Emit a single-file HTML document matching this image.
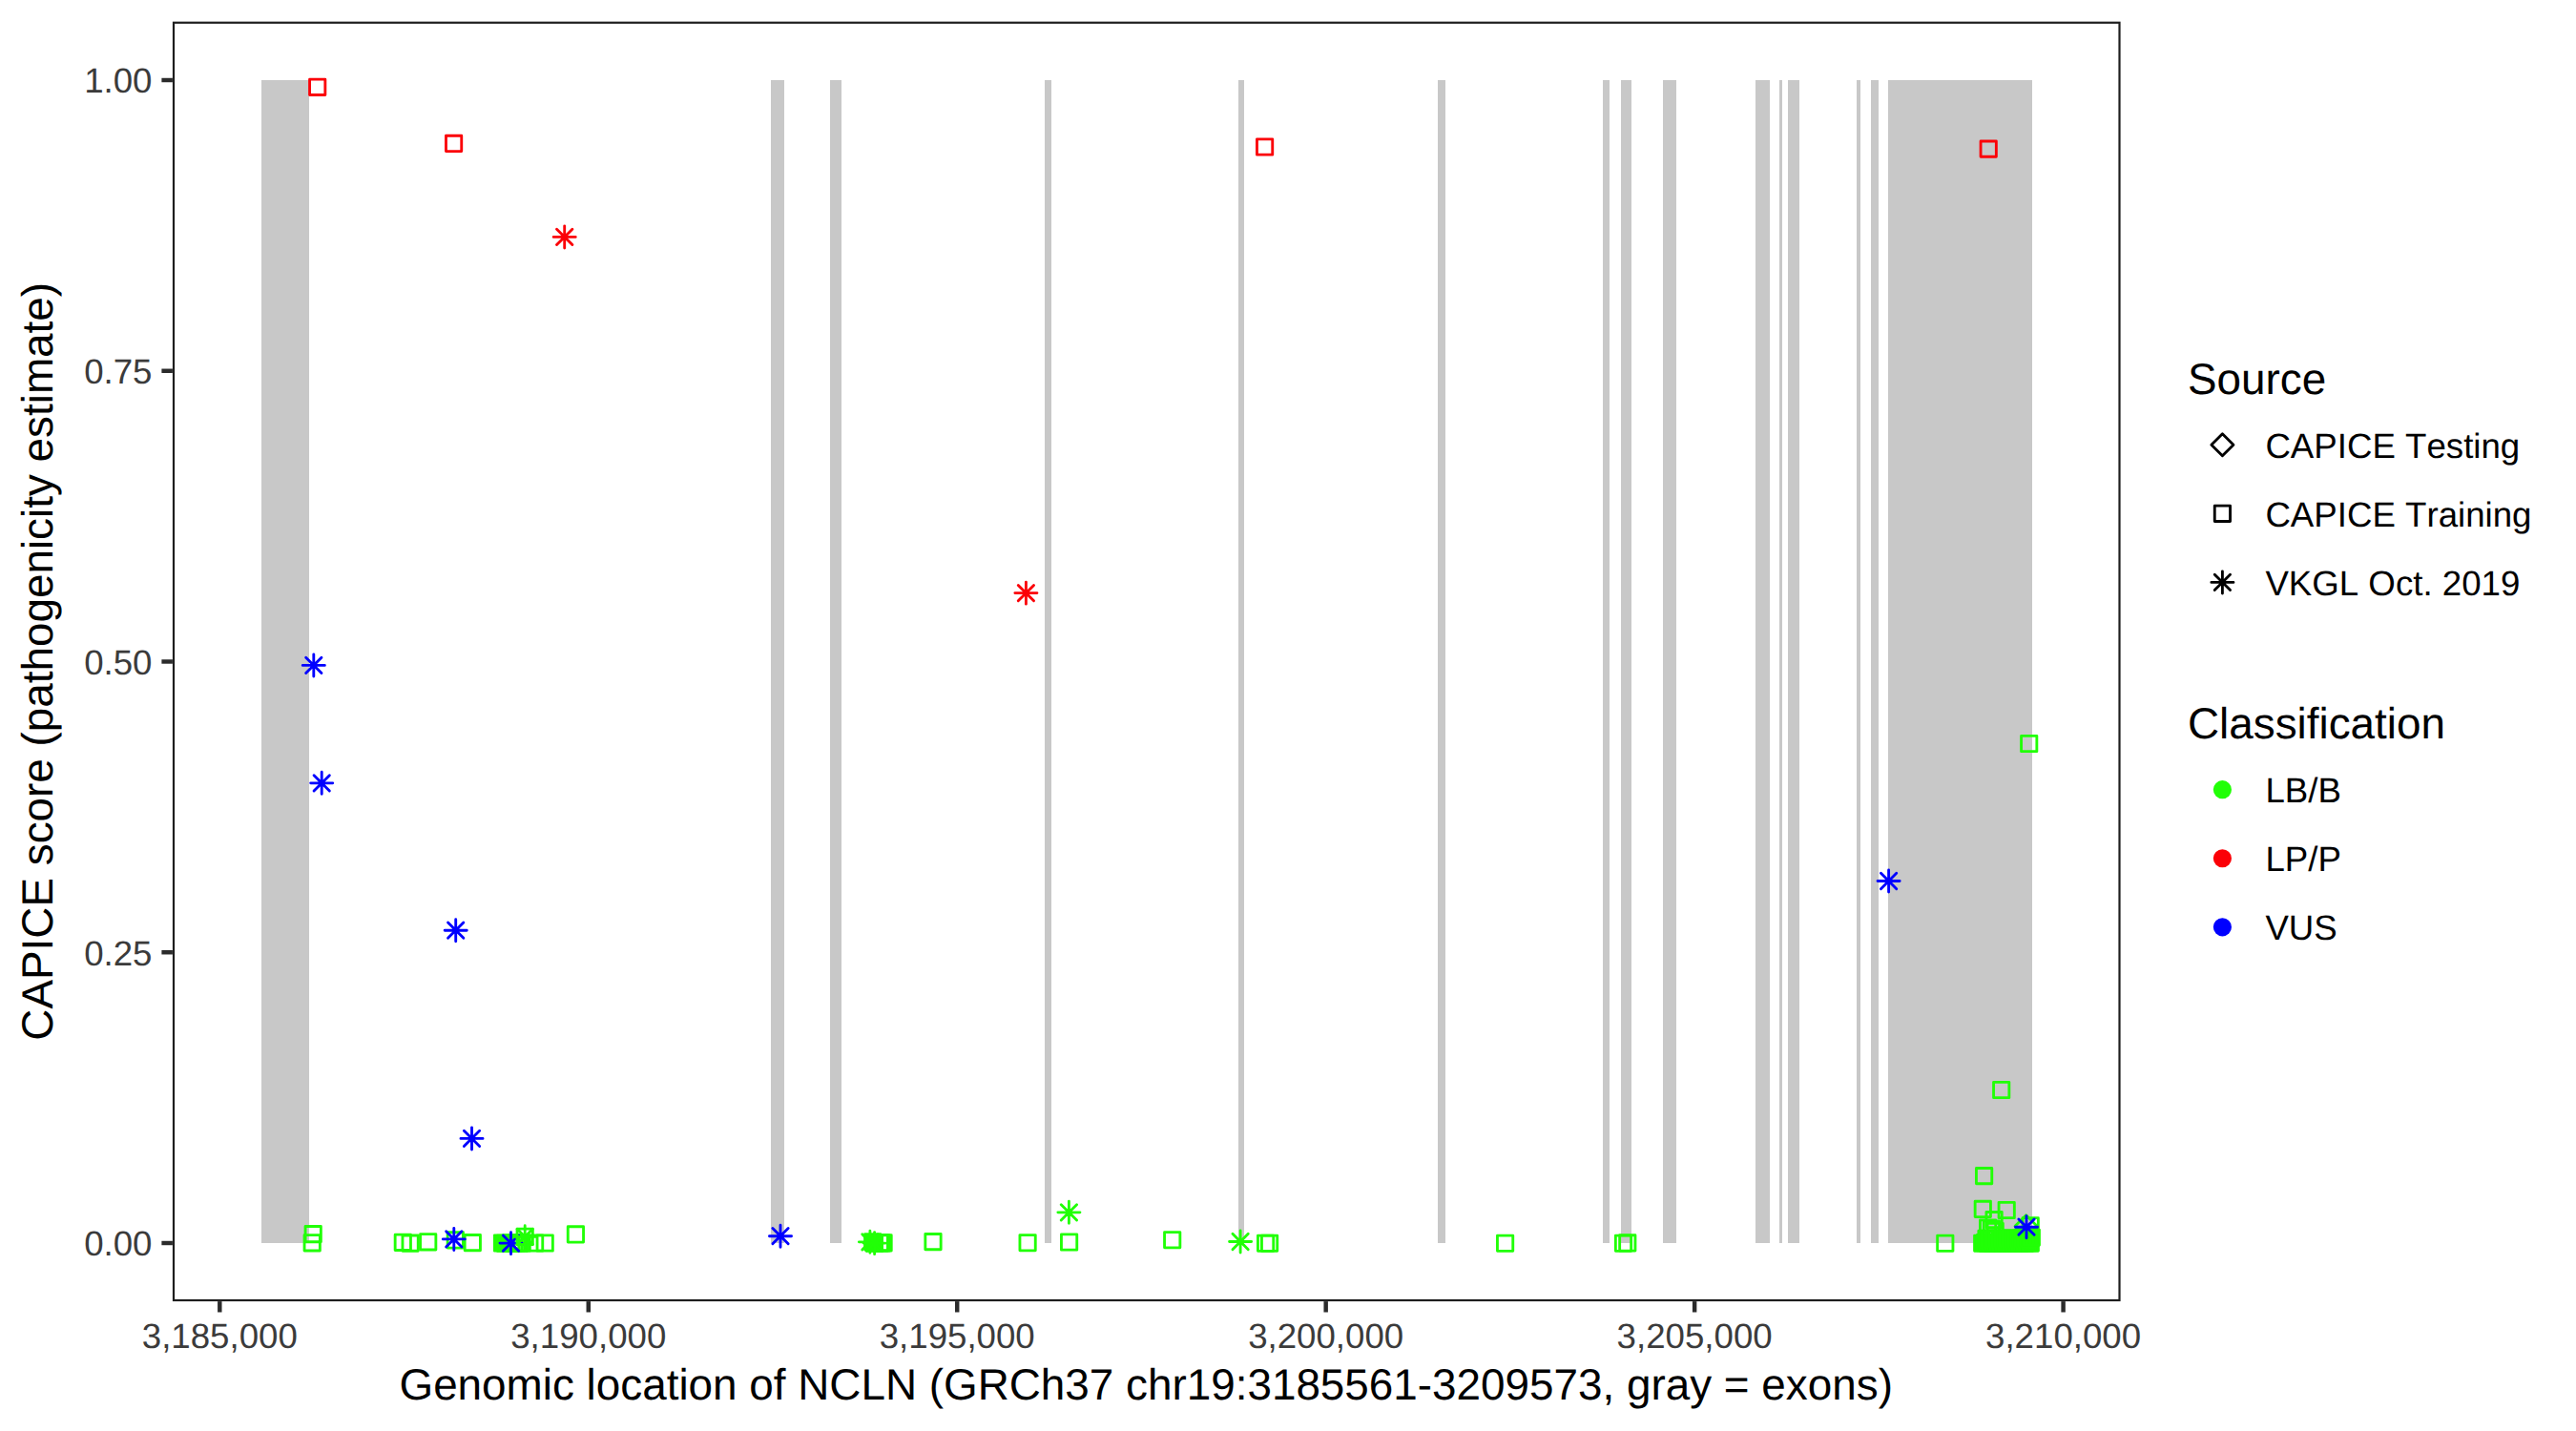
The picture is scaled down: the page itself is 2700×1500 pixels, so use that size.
<!DOCTYPE html>
<html lang="en"><head><meta charset="utf-8"><title>CAPICE score - NCLN</title>
<style>html,body{margin:0;padding:0;background:#fff}body{width:2700px;height:1500px;overflow:hidden}text{font-kerning:none;font-feature-settings:"kern" 0,"liga" 0;text-rendering:geometricPrecision}</style>
</head><body>
<svg width="2700" height="1500" viewBox="0 0 2700 1500" style="display:block">
<rect width="2700" height="1500" fill="#fff"/>
<g fill="#C8C8C8" shape-rendering="crispEdges">
<rect x="274" y="84" width="50" height="1219"/>
<rect x="808" y="84" width="14" height="1219"/>
<rect x="870" y="84" width="12" height="1219"/>
<rect x="1095" y="84" width="7" height="1219"/>
<rect x="1298" y="84" width="6" height="1219"/>
<rect x="1507" y="84" width="8" height="1219"/>
<rect x="1680" y="84" width="7" height="1219"/>
<rect x="1699" y="84" width="11" height="1219"/>
<rect x="1743" y="84" width="14" height="1219"/>
<rect x="1840" y="84" width="15" height="1219"/>
<rect x="1865" y="84" width="3" height="1219"/>
<rect x="1874" y="84" width="12" height="1219"/>
<rect x="1946" y="84" width="4" height="1219"/>
<rect x="1961" y="84" width="8" height="1219"/>
<rect x="1979" y="84" width="151" height="1219"/>
</g>
<g fill="none" stroke-width="2.85" stroke-linecap="round" stroke-linejoin="round">
<rect x="2069.5" y="1294.5" width="68" height="17" fill="#21FF06" stroke="none"/>
<rect x="2100" y="1289.5" width="37" height="10" fill="#21FF06" stroke="none"/>
<rect x="906" y="1293.5" width="19" height="18" fill="#21FF06" stroke="none"/>
<rect x="518" y="1294.5" width="12" height="17" fill="#21FF06" stroke="none"/>
<rect x="320.05" y="1285.45" width="16.30" height="16.30" stroke="#21FF06"/>
<rect x="319.05" y="1294.65" width="16.30" height="16.30" stroke="#21FF06"/>
<rect x="414.15" y="1294.15" width="16.30" height="16.30" stroke="#21FF06"/>
<rect x="421.95" y="1294.95" width="16.30" height="16.30" stroke="#21FF06"/>
<rect x="440.55" y="1293.65" width="16.30" height="16.30" stroke="#21FF06"/>
<rect x="469.15" y="1291.75" width="16.30" height="16.30" stroke="#21FF06"/>
<rect x="487.15" y="1294.45" width="16.30" height="16.30" stroke="#21FF06"/>
<rect x="518.35" y="1294.85" width="16.30" height="16.30" stroke="#21FF06"/>
<rect x="521.25" y="1295.05" width="16.30" height="16.30" stroke="#21FF06"/>
<rect x="527.45" y="1294.85" width="16.30" height="16.30" stroke="#21FF06"/>
<rect x="530.35" y="1295.05" width="16.30" height="16.30" stroke="#21FF06"/>
<rect x="533.25" y="1294.85" width="16.30" height="16.30" stroke="#21FF06"/>
<rect x="536.15" y="1295.05" width="16.30" height="16.30" stroke="#21FF06"/>
<rect x="539.05" y="1294.85" width="16.30" height="16.30" stroke="#21FF06"/>
<rect x="552.45" y="1294.85" width="16.30" height="16.30" stroke="#21FF06"/>
<rect x="563.05" y="1294.85" width="16.30" height="16.30" stroke="#21FF06"/>
<rect x="595.25" y="1285.75" width="16.30" height="16.30" stroke="#21FF06"/>
<rect x="906.55" y="1293.55" width="16.30" height="16.30" stroke="#21FF06"/>
<rect x="908.25" y="1294.95" width="16.30" height="16.30" stroke="#21FF06"/>
<rect x="914.15" y="1294.65" width="16.30" height="16.30" stroke="#21FF06"/>
<rect x="916.05" y="1294.75" width="16.30" height="16.30" stroke="#21FF06"/>
<rect x="917.95" y="1294.65" width="16.30" height="16.30" stroke="#21FF06"/>
<rect x="969.85" y="1293.45" width="16.30" height="16.30" stroke="#21FF06"/>
<rect x="1068.95" y="1294.55" width="16.30" height="16.30" stroke="#21FF06"/>
<rect x="1112.45" y="1293.85" width="16.30" height="16.30" stroke="#21FF06"/>
<rect x="1220.55" y="1291.55" width="16.30" height="16.30" stroke="#21FF06"/>
<rect x="1318.45" y="1295.05" width="16.30" height="16.30" stroke="#21FF06"/>
<rect x="1322.45" y="1295.05" width="16.30" height="16.30" stroke="#21FF06"/>
<rect x="1569.45" y="1295.05" width="16.30" height="16.30" stroke="#21FF06"/>
<rect x="1693.35" y="1295.05" width="16.30" height="16.30" stroke="#21FF06"/>
<rect x="1697.65" y="1294.75" width="16.30" height="16.30" stroke="#21FF06"/>
<rect x="2030.65" y="1295.05" width="16.30" height="16.30" stroke="#21FF06"/>
<rect x="2118.55" y="771.35" width="16.30" height="16.30" stroke="#21FF06"/>
<rect x="2089.55" y="1134.35" width="16.30" height="16.30" stroke="#21FF06"/>
<rect x="2071.45" y="1224.45" width="16.30" height="16.30" stroke="#21FF06"/>
<rect x="2070.15" y="1259.25" width="16.30" height="16.30" stroke="#21FF06"/>
<rect x="2095.05" y="1260.35" width="16.30" height="16.30" stroke="#21FF06"/>
<rect x="2081.95" y="1270.45" width="16.30" height="16.30" stroke="#21FF06"/>
<rect x="2120.05" y="1276.65" width="16.30" height="16.30" stroke="#21FF06"/>
<rect x="2075.45" y="1278.85" width="16.30" height="16.30" stroke="#21FF06"/>
<rect x="2079.25" y="1279.85" width="16.30" height="16.30" stroke="#21FF06"/>
<rect x="2083.05" y="1282.35" width="16.30" height="16.30" stroke="#21FF06"/>
<rect x="2069.55" y="1295.05" width="16.30" height="16.30" stroke="#21FF06"/>
<rect x="2072.35" y="1294.45" width="16.30" height="16.30" stroke="#21FF06"/>
<rect x="2075.15" y="1295.05" width="16.30" height="16.30" stroke="#21FF06"/>
<rect x="2077.95" y="1294.45" width="16.30" height="16.30" stroke="#21FF06"/>
<rect x="2080.75" y="1295.05" width="16.30" height="16.30" stroke="#21FF06"/>
<rect x="2083.55" y="1294.45" width="16.30" height="16.30" stroke="#21FF06"/>
<rect x="2086.35" y="1295.05" width="16.30" height="16.30" stroke="#21FF06"/>
<rect x="2089.15" y="1294.45" width="16.30" height="16.30" stroke="#21FF06"/>
<rect x="2091.95" y="1295.05" width="16.30" height="16.30" stroke="#21FF06"/>
<rect x="2094.75" y="1294.45" width="16.30" height="16.30" stroke="#21FF06"/>
<rect x="2097.55" y="1295.05" width="16.30" height="16.30" stroke="#21FF06"/>
<rect x="2100.35" y="1294.45" width="16.30" height="16.30" stroke="#21FF06"/>
<rect x="2103.15" y="1295.05" width="16.30" height="16.30" stroke="#21FF06"/>
<rect x="2105.95" y="1294.45" width="16.30" height="16.30" stroke="#21FF06"/>
<rect x="2108.75" y="1295.05" width="16.30" height="16.30" stroke="#21FF06"/>
<rect x="2111.55" y="1294.45" width="16.30" height="16.30" stroke="#21FF06"/>
<rect x="2114.35" y="1295.05" width="16.30" height="16.30" stroke="#21FF06"/>
<rect x="2117.15" y="1294.45" width="16.30" height="16.30" stroke="#21FF06"/>
<rect x="2119.95" y="1295.05" width="16.30" height="16.30" stroke="#21FF06"/>
<rect x="2073.85" y="1290.15" width="16.30" height="16.30" stroke="#21FF06"/>
<rect x="2076.65" y="1290.15" width="16.30" height="16.30" stroke="#21FF06"/>
<rect x="2079.45" y="1290.15" width="16.30" height="16.30" stroke="#21FF06"/>
<rect x="2082.25" y="1290.15" width="16.30" height="16.30" stroke="#21FF06"/>
<rect x="2085.05" y="1290.15" width="16.30" height="16.30" stroke="#21FF06"/>
<rect x="2087.85" y="1290.15" width="16.30" height="16.30" stroke="#21FF06"/>
<rect x="2090.65" y="1290.15" width="16.30" height="16.30" stroke="#21FF06"/>
<rect x="2093.45" y="1290.15" width="16.30" height="16.30" stroke="#21FF06"/>
<rect x="2096.25" y="1290.15" width="16.30" height="16.30" stroke="#21FF06"/>
<rect x="2099.05" y="1290.15" width="16.30" height="16.30" stroke="#21FF06"/>
<rect x="2101.85" y="1290.15" width="16.30" height="16.30" stroke="#21FF06"/>
<rect x="2104.65" y="1290.15" width="16.30" height="16.30" stroke="#21FF06"/>
<rect x="2107.45" y="1290.15" width="16.30" height="16.30" stroke="#21FF06"/>
<rect x="2110.25" y="1290.15" width="16.30" height="16.30" stroke="#21FF06"/>
<rect x="2113.05" y="1290.15" width="16.30" height="16.30" stroke="#21FF06"/>
<rect x="2115.85" y="1290.15" width="16.30" height="16.30" stroke="#21FF06"/>
<rect x="2118.65" y="1290.15" width="16.30" height="16.30" stroke="#21FF06"/>
<rect x="2111.85" y="1289.15" width="16.30" height="16.30" stroke="#21FF06"/>
<rect x="2114.65" y="1289.15" width="16.30" height="16.30" stroke="#21FF06"/>
<rect x="2117.45" y="1289.15" width="16.30" height="16.30" stroke="#21FF06"/>
<rect x="2120.25" y="1289.15" width="16.30" height="16.30" stroke="#21FF06"/>
<rect x="2121.15" y="1289.05" width="16.30" height="16.30" stroke="#21FF06"/>
<path d="M2112.05 1285.30L2123.60 1273.75L2135.15 1285.30L2123.60 1296.85Z" stroke="#21FF06"/>
<path d="M900.35 1301.80H923.45M911.90 1290.25V1313.35M903.75 1293.65L920.05 1309.95M903.75 1309.95L920.05 1293.65" stroke="#21FF06"/>
<path d="M905.05 1303.10H928.15M916.60 1291.55V1314.65M908.45 1294.95L924.75 1311.25M908.45 1311.25L924.75 1294.95" stroke="#21FF06"/>
<path d="M1108.85 1270.80H1131.95M1120.40 1259.25V1282.35M1112.25 1262.65L1128.55 1278.95M1112.25 1278.95L1128.55 1262.65" stroke="#21FF06"/>
<path d="M1288.55 1301.50H1311.65M1300.10 1289.95V1313.05M1291.95 1293.35L1308.25 1309.65M1291.95 1309.65L1308.25 1293.35" stroke="#21FF06"/>
<rect x="324.55" y="83.15" width="16.30" height="16.30" stroke="#FB0007"/>
<rect x="467.45" y="142.25" width="16.30" height="16.30" stroke="#FB0007"/>
<rect x="1317.45" y="145.85" width="16.30" height="16.30" stroke="#FB0007"/>
<rect x="2076.05" y="147.95" width="16.30" height="16.30" stroke="#FB0007"/>
<path d="M580.15 248.40H603.25M591.70 236.85V259.95M583.55 240.25L599.85 256.55M583.55 256.55L599.85 240.25" stroke="#FB0007"/>
<path d="M1063.85 621.60H1086.95M1075.40 610.05V633.15M1067.25 613.45L1083.55 629.75M1067.25 629.75L1083.55 613.45" stroke="#FB0007"/>
<path d="M317.25 697.40H340.35M328.80 685.85V708.95M320.65 689.25L336.95 705.55M320.65 705.55L336.95 689.25" stroke="#0000FF"/>
<path d="M325.65 820.80H348.75M337.20 809.25V832.35M329.05 812.65L345.35 828.95M329.05 828.95L345.35 812.65" stroke="#0000FF"/>
<path d="M466.15 975.20H489.25M477.70 963.65V986.75M469.55 967.05L485.85 983.35M469.55 983.35L485.85 967.05" stroke="#0000FF"/>
<path d="M482.95 1193.40H506.05M494.50 1181.85V1204.95M486.35 1185.25L502.65 1201.55M486.35 1201.55L502.65 1185.25" stroke="#0000FF"/>
<path d="M464.25 1298.90H487.35M475.80 1287.35V1310.45M467.65 1290.75L483.95 1307.05M467.65 1307.05L483.95 1290.75" stroke="#0000FF"/>
<path d="M523.95 1303.10H547.05M535.50 1291.55V1314.65M527.35 1294.95L543.65 1311.25M527.35 1311.25L543.65 1294.95" stroke="#0000FF"/>
<path d="M806.45 1295.70H829.55M818.00 1284.15V1307.25M809.85 1287.55L826.15 1303.85M809.85 1303.85L826.15 1287.55" stroke="#0000FF"/>
<path d="M1968.05 923.50H1991.15M1979.60 911.95V935.05M1971.45 915.35L1987.75 931.65M1971.45 931.65L1987.75 915.35" stroke="#0000FF"/>
<path d="M2112.45 1286.20H2135.55M2124.00 1274.65V1297.75M2115.85 1278.05L2132.15 1294.35M2115.85 1294.35L2132.15 1278.05" stroke="#0000FF"/>
<rect x="542.05" y="1288.15" width="16.30" height="16.30" stroke="#21FF06"/>
<path d="M538.65 1296.30H561.75M550.20 1284.75V1307.85M542.05 1288.15L558.35 1304.45M542.05 1304.45L558.35 1288.15" stroke="#21FF06"/>
</g>
<rect x="182" y="23.75" width="2039.5" height="1339.25" fill="none" stroke="#1E1E1E" stroke-width="2.2"/>
<g stroke="#2B2B2B" stroke-width="4.45" fill="none">
<path d="M169.4 1303.00H180.9"/>
<path d="M169.4 998.25H180.9"/>
<path d="M169.4 693.50H180.9"/>
<path d="M169.4 388.75H180.9"/>
<path d="M169.4 84.00H180.9"/>
<path d="M230.30 1364.1V1375.5"/>
<path d="M616.76 1364.1V1375.5"/>
<path d="M1003.22 1364.1V1375.5"/>
<path d="M1389.68 1364.1V1375.5"/>
<path d="M1776.14 1364.1V1375.5"/>
<path d="M2162.60 1364.1V1375.5"/>
</g>
<g font-family="'Liberation Sans', Arial, Helvetica, sans-serif" font-size="36.67px" fill="#3B3B3B">
<text x="159.5" y="1316.30" text-anchor="end">0.00</text>
<text x="159.5" y="1011.55" text-anchor="end">0.25</text>
<text x="159.5" y="706.80" text-anchor="end">0.50</text>
<text x="159.5" y="402.05" text-anchor="end">0.75</text>
<text x="159.5" y="97.30" text-anchor="end">1.00</text>
<text x="230.30" y="1412.5" text-anchor="middle">3,185,000</text>
<text x="616.76" y="1412.5" text-anchor="middle">3,190,000</text>
<text x="1003.22" y="1412.5" text-anchor="middle">3,195,000</text>
<text x="1389.68" y="1412.5" text-anchor="middle">3,200,000</text>
<text x="1776.14" y="1412.5" text-anchor="middle">3,205,000</text>
<text x="2162.60" y="1412.5" text-anchor="middle">3,210,000</text>
</g>
<g font-family="'Liberation Sans', Arial, Helvetica, sans-serif" fill="#000">
<text x="1201.2" y="1466.7" font-size="45.83px" text-anchor="middle">Genomic location of NCLN (GRCh37 chr19:3185561-3209573, gray = exons)</text>
<text transform="translate(55 693.3) rotate(-90)" font-size="45.83px" text-anchor="middle">CAPICE score (pathogenicity estimate)</text>
<text x="2293" y="412.9" font-size="45.83px">Source</text>
<text x="2293" y="773.6" font-size="45.83px">Classification</text>
<text x="2374.4" y="480.20" font-size="36.67px">CAPICE Testing</text>
<text x="2374.4" y="552.25" font-size="36.67px">CAPICE Training</text>
<text x="2374.4" y="624.30" font-size="36.67px">VKGL Oct. 2019</text>
<text x="2374.4" y="840.90" font-size="36.67px">LB/B</text>
<text x="2374.4" y="912.95" font-size="36.67px">LP/P</text>
<text x="2374.4" y="985.00" font-size="36.67px">VUS</text>
</g>
<g fill="none" stroke="#000" stroke-width="2.85" stroke-linecap="round" stroke-linejoin="round">
<path d="M2317.85 466.20L2329.40 454.65L2340.95 466.20L2329.40 477.75Z" stroke="#000"/>
<rect x="2321.25" y="530.15" width="16.30" height="16.30" stroke="#000"/>
<path d="M2317.85 610.40H2340.95M2329.40 598.85V621.95M2321.25 602.25L2337.55 618.55M2321.25 618.55L2337.55 602.25" stroke="#000"/>
</g>
<circle cx="2329.4" cy="827.70" r="9.6" fill="#21FF06"/>
<circle cx="2329.4" cy="899.75" r="9.6" fill="#FB0007"/>
<circle cx="2329.4" cy="971.80" r="9.6" fill="#0000FF"/>
</svg>
</body></html>
